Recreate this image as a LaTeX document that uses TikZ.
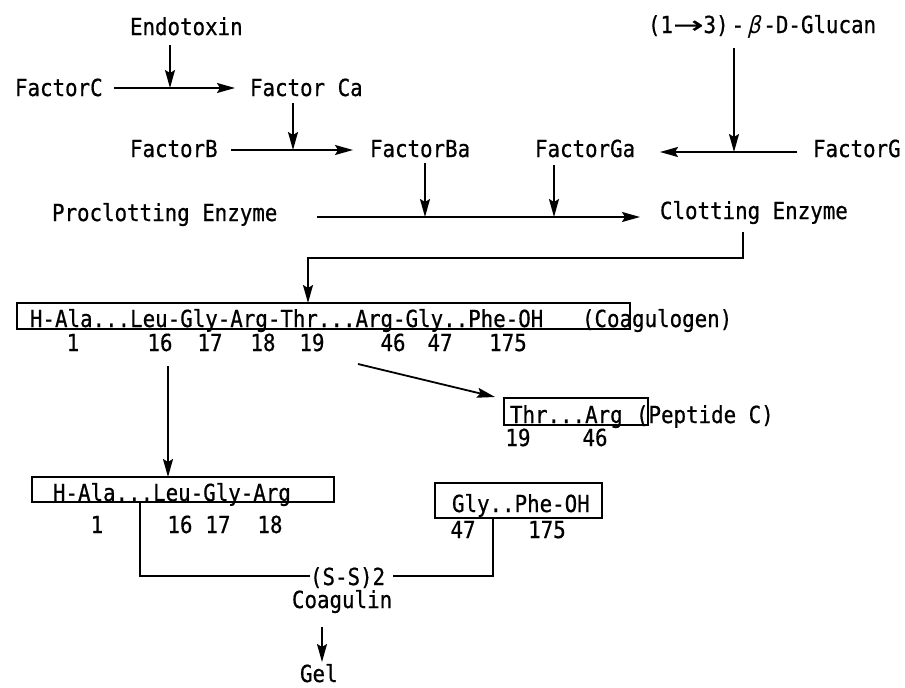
\documentclass[tikz,border=0pt]{standalone}
\usepackage{fontspec}
\newfontfamily\dmono[FakeStretch=0.885,FakeBold=0.6]{DejaVu Sans Mono}
\newfontfamily\dslant[FakeStretch=0.885,FakeSlant=0.25]{DejaVu Sans}
\newfontfamily\dsans[FakeBold=0.6]{DejaVu Sans}
\usetikzlibrary{arrows.meta}
\begin{document}
\begin{tikzpicture}[x=1pt,y=-1pt,
  every node/.style={font=\dmono\fontsize{23.5}{28}\selectfont, inner sep=0pt, outer sep=0pt},
  lbl/.style={anchor=base west},
  num/.style={anchor=base},
  ln/.style={line width=1.8pt},
  arr/.style={ln, -{Stealth[length=18pt,width=10pt,inset=3pt]}},
  seqbox/.style={draw, line width=1.8pt, anchor=north west}]
\useasboundingbox (0,0) rectangle (905,688);

% top labels
\node[lbl] (endo) at (130,35) {Endotoxin};
\node[lbl] (fc) at (15,96) {FactorC};
\node[lbl] (fca) at (250,96) {Factor Ca};
\node[lbl] (fb) at (130,157) {FactorB};
\node[lbl] (fba) at (370,157) {FactorBa};
\node[lbl] (fga) at (535,157) {FactorGa};
\node[lbl] (fg) at (813,157) {FactorG};
\node[lbl] (glu) at (648,33) {(1\scalebox{1.55}[1]{\dsans →}3)\kern3pt-\kern3pt{\dslant β}\kern3pt-D-Glucan};
\node[lbl] (pro) at (52,221) {Proclotting Enzyme};
\node[lbl] (clt) at (660,219) {Clotting Enzyme};

% junction coordinates
\coordinate (l1s) at (114,88);
\coordinate (l1e) at (235,88);
\coordinate (j1) at (170,88);
\coordinate (l2s) at (231,150);
\coordinate (l2e) at (353,150);
\coordinate (j2) at (293,150);
\coordinate (l3s) at (797,152);
\coordinate (l3e) at (660,152);
\coordinate (j3) at (734,152);
\coordinate (l4s) at (317,217);
\coordinate (l4e) at (640,217);
\coordinate (j4a) at (425,217);
\coordinate (j4b) at (554,217);

\draw[arr] (l1s) -- (l1e);
\draw[arr] (170,45) -- (j1);
\draw[arr] (l2s) -- (l2e);
\draw[arr] (293,103) -- (j2);
\draw[arr] (l3s) -- (l3e);
\draw[arr] (734,48) -- (j3);
\draw[arr] (l4s) -- (l4e);
\draw[arr] (425,163) -- (j4a);
\draw[arr] (554,165) -- (j4b);

% coagulogen
\node[seqbox, minimum width=613, minimum height=26] (cbox) at (17,303) {};
\node[lbl] (cseq) at (30,327) {H-Ala...Leu-Gly-Arg-Thr...Arg-Gly..Phe-OH};
\node[lbl] (cname) at (582,327) {(Coagulogen)};
\node[num] (n1) at (73,351) {1};
\node[num] (n16) at (160,351) {16};
\node[num] (n17) at (210,351) {17};
\node[num] (n18) at (263,351) {18};
\node[num] (n19) at (312,351) {19};
\node[num] (n46) at (393,351) {46};
\node[num] (n47) at (440,351) {47};
\node[num] (n175) at (508,351) {175};

\coordinate (c1) at (743,232);
\coordinate (c2) at (743,258);
\coordinate (c3) at (308,258);
\draw[arr] (c1) -- (c2) -- (c3) -- (cbox.north -| c3);

% peptide C
\node[seqbox, minimum width=144, minimum height=27] (pbox) at (504,398) {};
\node[lbl] (pseq) at (510,423) {Thr...Arg};
\node[lbl] (pname) at (636,423) {(Peptide C)};
\node[num] (p19) at (518,446) {19};
\node[num] (p46) at (595,446) {46};
\coordinate (pa) at (358,364);
\draw[arr] (pa) -- (495,397);

% lower left box
\node[seqbox, minimum width=302, minimum height=25] (llbox) at (32,477) {};
\node[lbl] (llseq) at (53,501) {H-Ala...Leu-Gly-Arg};
\node[num] (m1) at (97,533) {1};
\node[num] (m16) at (180,533) {16};
\node[num] (m17) at (218,533) {17};
\node[num] (m18) at (270,533) {18};
\coordinate (da) at (168,366);
\draw[arr] (da) -- (llbox.north -| da);

% lower right box
\node[seqbox, minimum width=167, minimum height=35] (lrbox) at (435,483) {};
\node[lbl] (lrseq) at (452,512) {Gly..Phe-OH};
\node[num] (r47) at (463,538) {47};
\node[num] (r175) at (547,538) {175};

% S-S link
\node[lbl] (ss) at (310,585) {(S-S)2};
\node[lbl] (coagulin) at (292,608) {Coagulin};
\node[lbl] (gel) at (300,682) {Gel};
\coordinate (s1) at (140,576);
\coordinate (s2) at (493,576);
\draw[ln] (llbox.south -| s1) -- (s1) -- (ss.west |- s1);
\draw[ln] (ss.east |- s2) ++(8,0) -- (s2) -- (lrbox.south -| s2);
\coordinate (g1) at (322,627);
\draw[arr] (g1) -- (322,662);
\end{tikzpicture}
\end{document}
